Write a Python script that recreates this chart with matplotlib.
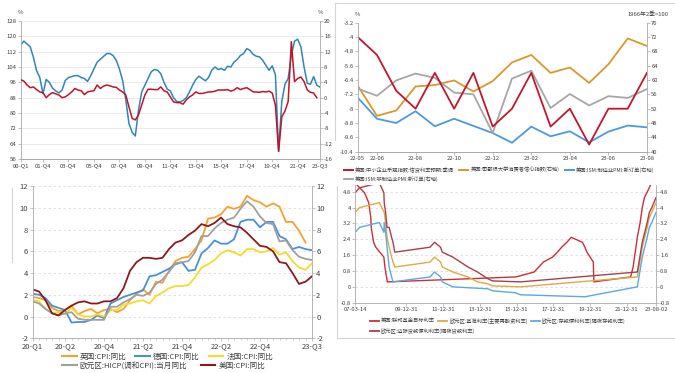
import numpy as np
import pandas as pd
import matplotlib
matplotlib.use('Agg')
import matplotlib.pyplot as plt
import matplotlib.dates as mdates
from matplotlib.lines import Line2D
from matplotlib.ticker import FuncFormatter

plt.rcParams['font.family'] = ['Noto Sans CJK SC', 'DejaVu Sans']
plt.rcParams['axes.unicode_minus'] = False

# ---------------- top left: quarterly, 00-Q1 .. 23-Q3
tl_blue = [115.5, 117.5, 116, 114.5, 109, 102, 98.5, 90, 97.5, 96, 93, 91.5,
           90.5, 92, 97, 98.5, 99, 99.5, 99.5, 98.5, 98, 96.5, 99.5, 103,
           106.5, 108, 109.5, 111, 111, 110, 107.5, 103, 97, 87, 74.5, 70,
           68, 81.5, 91, 94.5, 98, 101.5, 102.7, 102.3, 100.5, 96, 92.5, 91.5,
           88, 86, 85.8, 86.5, 88, 91, 94.5, 97.5, 99.2, 98, 96.8, 98.5,
           102.3, 104, 102.7, 103.2, 102.3, 104.4, 104, 106.6, 107.9, 110, 111, 113.6,
           112.7, 110.6, 109.6, 109.3, 107.5, 104.9, 102.3, 104.6, 100, 60, 86, 95,
           98, 110, 117.5, 118.5, 114.5, 104, 95.5, 95, 99, 94.5, 93.5]
tl_red = [4.7, 4.3, 3.3, 2.6, 2.8, 2.1, 1.5, 1.3, 0.0, 0.8, 1.3, 1.0,
          0.7, 0.0, 0.2, 0.8, 1.5, 2.4, 2.0, 1.8, 0.8, 1.5, 1.7, 1.8,
          3.3, 2.4, 3.0, 3.3, 3.1, 2.8, 2.7, 2.0, 1.5, 0.7, -2.4, -5.4,
          -5.8, -4.5, -1.9, 0.7, 2.2, 2.2, 2.1, 2.1, 2.8, 1.8, 1.5, 0.2,
          -1.1, -1.3, -1.3, -1.7, -0.6, 0.2, 0.7, 1.5, 1.1, 1.1, 1.3, 1.5,
          1.5, 1.7, 2.0, 2.0, 2.0, 2.1, 1.7, 2.0, 2.6, 2.1, 2.4, 2.6,
          2.1, 1.5, 1.5, 1.4, 1.6, 1.5, 1.7, 1.2, -2.0, -14.0, -5.0, -3.5,
          -1.0, 14.6, 4.2, 5.0, 5.4, 4.2, 2.0, 1.4, 1.2, 0.0]
tl_tick_pos = [0, 7, 15, 23, 31, 39, 47, 55, 63, 71, 79, 87, 94]
tl_tick_lab = ['00-Q1', '01-Q4', '03-Q4', '05-Q4', '07-Q4', '09-Q4', '11-Q4',
               '13-Q4', '15-Q4', '17-Q4', '19-Q4', '21-Q4', '23-Q3']

# ---------------- top right: monthly 22-05 .. 23-08
tr_months = ['22-05', '22-06', '22-07', '22-08', '22-09', '22-10', '22-11', '22-12',
             '23-01', '23-02', '23-03', '23-04', '23-05', '23-06', '23-07', '23-08']
tr_nfib = [-4, -5, -7, -8, -6, -8, -6, -9, -8, -6, -9, -8, -10, -8, -8, -6]
tr_michigan = [58.4, 50.0, 51.5, 58.2, 58.6, 59.9, 56.8, 59.7, 64.9, 67.0,
               62.0, 63.5, 59.2, 64.4, 71.6, 69.5]
tr_ism_mfg = [55.1, 49.2, 48.0, 51.3, 47.1, 49.2, 47.2, 45.2, 42.5, 47.0,
              44.3, 45.7, 42.6, 45.6, 47.3, 46.8]
tr_ism_srv = [57.6, 55.6, 59.9, 61.8, 60.6, 56.5, 56.0, 45.2, 60.4, 62.6,
              52.2, 56.1, 52.9, 55.5, 55.0, 57.5]
tr_labels = ['美国:中小企业乐观指数:信贷利率预期:季调', '美国:密歇根大学消费者信心指数(右轴)',
             '美国:ISM:制造业PMI:新订单(右轴)', '美国:ISM:非制造业PMI:新订单(右轴)']

# ---------------- bottom left: monthly CPI yoy, 2020-01 .. 2023-08
bl_uk = [1.8, 1.7, 1.5, 0.8, 0.5, 0.6, 1.0, 0.2, 0.5, 0.7, 0.3, 0.6,
         0.7, 0.4, 0.7, 1.5, 2.1, 2.5, 2.0, 3.2, 3.1, 4.2, 5.1, 5.4,
         5.5, 6.2, 7.0, 9.0, 9.1, 9.4, 10.1, 9.9, 10.1, 11.1, 10.7, 10.5,
         10.1, 10.4, 10.1, 8.7, 8.7, 7.9, 6.8]
bl_de = [2.1, 2.0, 1.7, 1.0, 0.8, 0.6, -0.55, -0.5, -0.5, -0.3, 0.1, -0.15,
         1.2, 1.5, 1.8, 2.0, 2.2, 2.4, 3.7, 3.8, 4.1, 4.4, 4.8, 5.0,
         4.2, 4.3, 5.8, 6.3, 7.0, 6.7, 6.7, 7.1, 8.7, 8.9, 8.9, 8.2,
         8.7, 8.7, 7.4, 7.1, 6.2, 6.4, 6.2, 6.1]
bl_fr = [1.5, 1.4, 0.7, 0.3, 0.4, 0.2, 0.8, 0.2, 0.0, 0.0, 0.2, 0.0,
         0.6, 0.6, 1.1, 1.2, 1.4, 1.5, 1.2, 1.9, 2.2, 2.6, 2.8, 2.8,
         2.9, 3.6, 4.5, 4.8, 5.2, 5.8, 6.1, 5.9, 5.6, 6.2, 6.2, 5.9,
         6.0, 6.3, 5.7, 5.9, 5.1, 4.5, 4.3, 4.9]
bl_ea = [1.4, 1.2, 0.7, 0.3, 0.1, 0.3, 0.4, -0.2, -0.3, -0.3, -0.3, -0.3,
         0.9, 0.9, 1.3, 1.6, 2.0, 1.9, 2.2, 3.0, 3.4, 4.1, 4.9, 5.0,
         5.1, 5.9, 7.4, 7.4, 8.1, 8.6, 8.9, 9.1, 9.9, 10.6, 10.1, 9.2,
         8.6, 8.5, 6.9, 7.0, 6.1, 5.5, 5.3, 5.2]
bl_us = [2.5, 2.3, 1.5, 0.3, 0.1, 0.6, 1.0, 1.3, 1.4, 1.2, 1.2, 1.4,
         1.4, 1.7, 2.6, 4.2, 5.0, 5.4, 5.4, 5.3, 5.4, 6.2, 6.8, 7.0,
         7.5, 7.9, 8.5, 8.3, 8.6, 9.1, 8.5, 8.3, 8.2, 7.7, 7.1, 6.5,
         6.4, 6.0, 5.0, 4.9, 4.0, 3.0, 3.2, 3.7]
bl_tick_pos = [0, 5, 11, 17, 23, 29, 35, 43]
bl_tick_lab = ['20-Q1', '20-Q2', '20-Q4', '21-Q2', '21-Q4', '22-Q2', '22-Q4', '23-Q3']
bl_labels = ['英国:CPI:同比', '德国:CPI:同比', '法国:CPI:同比',
             '欧元区:HICP(调和CPI):当月同比', '美国:CPI:同比']

# ---------------- bottom right: policy rates (change dates)
fed_dates = ['2007-03-14', '2007-09-18', '2007-10-31', '2007-12-11', '2008-01-22', '2008-01-30',
             '2008-03-18', '2008-04-30', '2008-10-08', '2008-10-29', '2008-12-16', '2015-12-16',
             '2016-12-14', '2017-03-15', '2017-06-14', '2017-12-13', '2018-03-21', '2018-06-13',
             '2018-09-26', '2018-12-19', '2019-07-31', '2019-09-18', '2019-10-30', '2020-03-03',
             '2020-03-15', '2022-03-16', '2022-05-04', '2022-06-15', '2022-07-27', '2022-09-21',
             '2022-11-02', '2022-12-14', '2023-02-01', '2023-03-22', '2023-05-03', '2023-07-26',
             '2023-08-02']
fed_rate = [5.25, 4.75, 4.5, 4.25, 3.5, 3.0, 2.25, 2.0, 1.5, 1.0, 0.25, 0.5,
            0.75, 1.0, 1.25, 1.5, 1.75, 2.0, 2.25, 2.5, 2.25, 2.0, 1.75, 1.25,
            0.25, 0.5, 1.0, 1.75, 2.5, 3.25, 4.0, 4.5, 4.75, 5.0, 5.25, 5.5, 5.5]
mro_dates = ['2007-03-14', '2007-06-13', '2008-07-09', '2008-10-15', '2008-11-12', '2008-12-10',
             '2009-01-21', '2009-03-11', '2009-04-08', '2009-05-13', '2011-04-13', '2011-07-13',
             '2011-11-09', '2011-12-14', '2012-07-11', '2013-05-08', '2013-11-13', '2014-06-11',
             '2014-09-10', '2016-03-16', '2022-07-27', '2022-09-14', '2022-11-02', '2022-12-21',
             '2023-02-08', '2023-03-22', '2023-05-10', '2023-06-21', '2023-08-02']
mro_rate = [3.75, 4.0, 4.25, 3.75, 3.25, 2.5, 2.0, 1.5, 1.25, 1.0, 1.25, 1.5,
            1.25, 1.0, 0.75, 0.5, 0.25, 0.15, 0.05, 0.0, 0.5, 1.25, 2.0, 2.5,
            3.0, 3.5, 3.75, 4.0, 4.25]
dep_dates = ['2007-03-14', '2007-06-13', '2008-07-09', '2008-10-08', '2008-10-15', '2008-11-12',
             '2008-12-10', '2009-01-21', '2009-03-11', '2009-04-08', '2011-04-13', '2011-07-13',
             '2011-11-09', '2011-12-14', '2012-07-11', '2014-06-11', '2014-09-10', '2015-12-09',
             '2016-03-16', '2019-09-18', '2022-07-27', '2022-09-14', '2022-11-02', '2022-12-21',
             '2023-02-08', '2023-03-22', '2023-05-10', '2023-06-21', '2023-08-02']
dep_rate = [2.75, 3.0, 3.25, 2.75, 3.25, 2.75, 2.0, 1.0, 0.5, 0.25, 0.5, 0.75,
            0.5, 0.25, 0.0, -0.1, -0.2, -0.3, -0.4, -0.5, 0.0, 0.75, 1.5, 2.0,
            2.5, 3.0, 3.25, 3.5, 3.75]
mlf_dates = ['2007-03-14', '2007-06-13', '2008-07-09', '2008-10-08', '2008-10-15', '2008-11-12',
             '2008-12-10', '2009-01-21', '2009-03-11', '2009-04-08', '2009-05-13', '2011-04-13',
             '2011-07-13', '2011-11-09', '2011-12-14', '2012-07-11', '2013-05-08', '2013-11-13',
             '2014-06-11', '2014-09-10', '2016-03-16', '2022-07-27', '2022-09-14', '2022-11-02',
             '2022-12-21', '2023-02-08', '2023-03-22', '2023-05-10', '2023-06-21', '2023-08-02']
mlf_rate = [4.75, 5.0, 5.25, 4.75, 4.25, 3.75, 3.0, 3.0, 2.5, 2.25, 1.75, 2.0,
            2.25, 2.0, 1.75, 1.5, 1.0, 0.75, 0.4, 0.3, 0.25, 0.75, 1.5, 2.25,
            2.75, 3.25, 3.75, 4.0, 4.25, 4.5]
br_tick_dates = ['2007-03-14', '2009-12-31', '2011-12-31', '2013-12-31', '2015-12-31',
                 '2017-12-31', '2019-12-31', '2021-12-31', '2023-08-02']
br_tick_lab = ['07-03-14', '09-12-31', '11-12-31', '13-12-31', '15-12-31',
               '17-12-31', '19-12-31', '21-12-31', '23-08-02']
br_labels = ['美国:联邦基金目标利率', '欧元区:基准利率(主要再融资利率)',
             '欧元区:存款便利利率(隔夜存款利率)', '欧元区:边际贷款便利利率(隔夜贷款利率)']

W, H = 675, 373
SPINE = '#a8a8a8'
TXT = '#404040'
fmt = FuncFormatter(lambda v, p: f'{round(v, 1):g}')

fig = plt.figure(figsize=(W / 100, H / 100), dpi=100)


def box(l, t, r, b):
    return [l / W, 1 - b / H, (r - l) / W, (b - t) / H]


def style(ax, fs):
    for s in ax.spines.values():
        s.set_color(SPINE)
        s.set_linewidth(0.6)
    ax.spines['top'].set_visible(False)
    ax.tick_params(labelsize=fs, color=SPINE, labelcolor=TXT, length=2, width=0.5, pad=1)


def legend_row(items, x, y, fs, hl, hp, cs, lw):
    handles = [Line2D([], [], color=c, lw=lw) for c, _ in items]
    fig.legend(handles, [t for _, t in items], loc='center left',
               bbox_to_anchor=(x / W, 1 - y / H), ncol=len(items), frameon=False,
               fontsize=fs, handlelength=hl, handletextpad=hp, columnspacing=cs,
               borderpad=0, borderaxespad=0, labelcolor=TXT)


def fig_line(xs, ys):
    fig.add_artist(Line2D([x / W for x in xs], [1 - y / H for y in ys],
                          color='#d4d4d4', lw=0.8))


# top left
ax1 = fig.add_axes(box(20.7, 21, 320, 159))
ax1.plot(np.arange(len(tl_blue)), tl_blue, color='#2F86B8', lw=1.1)
ax1.set_xlim(0, 94)
ax1.set_ylim(56, 128)
ax1.set_yticks(np.arange(56, 129, 8))
ax1.set_xticks(tl_tick_pos)
ax1.set_xticklabels(tl_tick_lab)
ax1.grid(axis='y', color='#e6e6ee', lw=0.6)
ax1.set_axisbelow(True)
style(ax1, 4.3)
ax1.spines['right'].set_visible(False)
ax1b = ax1.twinx()
ax1b.plot(np.arange(len(tl_red)), tl_red, color='#C01427', lw=1.1)
ax1b.set_ylim(-16, 20)
ax1b.set_yticks(np.arange(-16, 21, 4))
style(ax1b, 4.3)
ax1b.spines['left'].set_visible(False)
fig.text(20 / W, 1 - 12.5 / H, '%', ha='center', va='center', fontsize=4.3, color=TXT)
fig.text(320 / W, 1 - 12.5 / H, '%', ha='center', va='center', fontsize=4.3, color=TXT)

# top right
x_tr = np.arange(len(tr_months))
ax2 = fig.add_axes(box(357.7, 22.7, 647, 151.7))
ax2b = ax2.twinx()
ax2.plot(x_tr, tr_nfib, color='#C0182A', lw=1.3)
ax2b.plot(x_tr, tr_michigan, color='#D9982A', lw=1.3)
ax2b.plot(x_tr, tr_ism_mfg, color='#4A9AE0', lw=1.3)
ax2b.plot(x_tr, tr_ism_srv, color='#A6A6A6', lw=1.3)
ax2.set_zorder(ax2b.get_zorder() + 1)
ax2.patch.set_visible(False)
ax2.set_xlim(0, 15)
ax2.set_ylim(-10.4, -3.2)
ax2.set_yticks(np.round(np.arange(-10.4, -3.1, 0.8), 1))
ax2.yaxis.set_major_formatter(fmt)
ax2b.set_ylim(40, 76)
ax2b.set_yticks(np.arange(40, 77, 4))
ax2.set_xticks([0, 1, 3, 5, 7, 9, 11, 13, 15])
ax2.set_xticklabels([tr_months[i] for i in [0, 1, 3, 5, 7, 9, 11, 13, 15]])
style(ax2, 4.2)
style(ax2b, 4.2)
ax2.spines['right'].set_visible(False)
ax2b.spines['left'].set_visible(False)
fig.text(357 / W, 1 - 14 / H, '%', ha='center', va='center', fontsize=4.2, color=TXT)
fig.text(668 / W, 1 - 14 / H, '1966年2季=100', ha='right', va='center', fontsize=4.2, color=TXT)
legend_row([('#C0182A', tr_labels[0]), ('#D9982A', tr_labels[1]), ('#4A9AE0', tr_labels[2])],
           344, 169.5, 3.8, 1.7, 0.4, 1.0, 1.4)
legend_row([('#A6A6A6', tr_labels[3])], 344, 179, 3.8, 1.7, 0.4, 1.0, 1.4)

# bottom left
x_bl = np.arange(len(bl_us))
ax3 = fig.add_axes(box(32.5, 186, 312, 338.3))
bl_colors = ['#F7A030', '#4A90D8', '#F5DC28', '#A0A0A0', '#8C1A1A']
for vals, c in zip([bl_uk, bl_de, bl_fr, bl_ea, bl_us], bl_colors):
    ax3.plot(np.arange(len(vals)), vals, color=c, lw=1.3)
ax3.set_xlim(0, 43)
ax3.set_ylim(-2, 12)
ax3.set_yticks(np.arange(-2, 13, 2))
ax3.set_xticks(bl_tick_pos)
ax3.set_xticklabels(bl_tick_lab)
ax3.set_xticks(x_bl, minor=True)
ax3.grid(axis='y', color='#dcdcdc', lw=0.6, ls=(0, (3, 3)))
ax3.set_axisbelow(True)
style(ax3, 5.5)
ax3.tick_params(which='minor', length=1.5, width=0.4, color=SPINE)
ax3.tick_params(right=True, labelright=True)
legend_row([(bl_colors[0], bl_labels[0]), (bl_colors[1], bl_labels[1]), (bl_colors[2], bl_labels[2])],
           62, 357, 5.5, 1.9, 0.4, 1.2, 1.5)
legend_row([(bl_colors[3], bl_labels[3]), (bl_colors[4], bl_labels[4])],
           62, 366, 5.5, 1.9, 0.4, 1.8, 1.5)

# bottom right
ax4 = fig.add_axes(box(355, 185, 656, 302.7))
br_series = [(fed_dates, fed_rate, '#C8303A'), (mro_dates, mro_rate, '#E2A844'),
             (dep_dates, dep_rate, '#5AA8E8'), (mlf_dates, mlf_rate, '#A8404A')]
for d, v, c in br_series:
    ax4.plot(pd.to_datetime(d), v, color=c, lw=1.0)
ax4.set_xlim(pd.Timestamp(br_tick_dates[0]), pd.Timestamp(br_tick_dates[-1]))
ax4.set_ylim(-0.8, 5.14)
ax4.set_yticks(np.round(np.arange(-0.8, 4.9, 0.8), 1))
ax4.yaxis.set_major_formatter(fmt)
ax4.set_xticks(pd.to_datetime(br_tick_dates))
ax4.set_xticklabels(br_tick_lab)
ax4.grid(axis='y', color='#dcdcdc', lw=0.6, ls=(0, (3, 3)))
ax4.set_axisbelow(True)
style(ax4, 4.2)
ax4.tick_params(right=True, labelright=True)
legend_row([(c, t) for (_, _, c), t in zip(br_series[:3], br_labels[:3])],
           370, 321, 3.8, 1.7, 0.4, 0.6, 1.3)
legend_row([(br_series[3][2], br_labels[3])], 370, 330.7, 3.8, 1.7, 0.4, 0.6, 1.3)

# panel frame lines from the source screenshot
fig_line([335, 675], [3, 3])
fig_line([335, 335], [3, 140])
fig_line([12, 12], [188, 262])
fig_line([337, 337], [186, 338])
fig_line([337, 675], [338, 338])

fig.savefig('out.png', dpi=100)
